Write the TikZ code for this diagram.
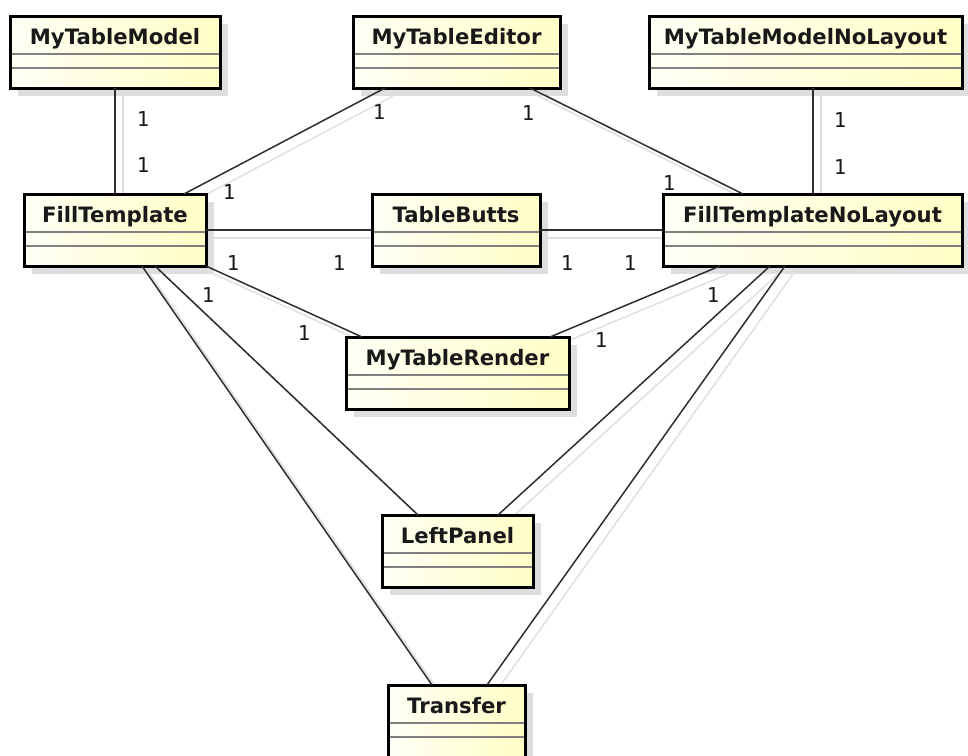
\documentclass[tikz,border=0pt]{standalone}
\usepackage{fontspec}
\setmainfont{DejaVu Sans}
\newfontfamily\numfont{DejaVu Sans Mono}
\usetikzlibrary{shadows,backgrounds}

\definecolor{boxlight}{RGB}{255,255,246}
\definecolor{boxdark}{RGB}{255,255,198}
\definecolor{sepgray}{RGB}{128,128,128}
\definecolor{shadowgray}{RGB}{222,222,222}
\definecolor{linkshade}{RGB}{224,224,224}
\definecolor{classtext}{RGB}{25,25,25}

\tikzset{
  classbox/.style={
    draw=black, line width=3pt, anchor=north west, outer sep=0pt,
    inner xsep=0pt, inner ysep=0pt,
    minimum height=72pt, text height=28pt, text depth=44pt,
    left color=boxlight, right color=boxdark, text=classtext,
    font=\fontsize{21.2}{25}\selectfont\bfseries,
    drop shadow={shadow xshift=8pt, shadow yshift=-8pt, fill=shadowgray, opacity=1},
    path picture={
      \draw[sepgray, line width=2.5pt]
        ([yshift=-38pt]path picture bounding box.north west) --
        ([yshift=-38pt]path picture bounding box.north east);
      \draw[sepgray, line width=2.5pt]
        ([yshift=-52pt]path picture bounding box.north west) --
        ([yshift=-52pt]path picture bounding box.north east);
    }
  },
  link/.style={draw=black!82, line width=1.5pt},
  linkshadow/.style={draw=linkshade, line width=1.5pt,
    transform canvas={shift={(8pt,-8pt)}}},
  mult/.style={font=\numfont\fontsize{20.5}{24}\selectfont, text=classtext, inner sep=0pt},
}

% association line with its soft shadow behind the boxes
\newcommand\umlassoc[2]{%
  \begin{pgfonlayer}{background}\draw[linkshadow] #1 -- #2;\end{pgfonlayer}%
  \draw[link] #1 -- #2;}

\begin{document}
\begin{tikzpicture}[x=1pt, y=-1pt]
  \useasboundingbox (0,0) rectangle (968,755);

  % classes
  \node[classbox, minimum width=210pt] (mtm)  at (10,16)   {MyTableModel};
  \node[classbox, minimum width=207pt] (mte)  at (353,16)  {MyTableEditor};
  \node[classbox, minimum width=313pt] (mtmn) at (649,16)  {MyTableModelNoLayout};
  \node[classbox, minimum width=182pt] (ft)   at (24,194)  {FillTemplate};
  \node[classbox, minimum width=168pt] (tb)   at (372,194) {TableButts};
  \node[classbox, minimum width=299pt] (ftn)  at (663,194) {FillTemplateNoLayout};
  \node[classbox, minimum width=223pt] (mtr)  at (346,337) {MyTableRender};
  \node[classbox, minimum width=151pt] (lp)   at (382,515) {LeftPanel};
  \node[classbox, minimum width=137pt] (tr)   at (388,685) {Transfer};

  % associations
  \umlassoc{([xshift=105pt]mtm.south west)}{([xshift=91pt]ft.north west)}
  \umlassoc{([xshift=32pt]mte.south west)}{([xshift=160pt]ft.north west)}
  \umlassoc{([xshift=177pt]mte.south west)}{([xshift=80pt]ftn.north west)}
  \umlassoc{([xshift=164pt]mtmn.south west)}{([xshift=150pt]ftn.north west)}
  \umlassoc{(ft.east)}{(tb.west)}
  \umlassoc{(tb.east)}{(ftn.west)}
  \umlassoc{(ft.south east)}{([xshift=16pt]mtr.north west)}
  \umlassoc{([xshift=57pt]ftn.south west)}{([xshift=204pt]mtr.north west)}
  \umlassoc{([xshift=131pt]ft.south west)}{([xshift=36pt]lp.north west)}
  \umlassoc{([xshift=107pt]ftn.south west)}{([xshift=116pt]lp.north west)}
  \umlassoc{([xshift=118pt]ft.south west)}{([xshift=44pt]tr.north west)}
  \umlassoc{([xshift=122pt]ftn.south west)}{([xshift=99pt]tr.north west)}

  % multiplicities
  \node[mult] (m1) at (143,119) {1};
  \node[mult] (m2) at (143,165) {1};
  \node[mult] (m3) at (379,112) {1};
  \node[mult] (m4) at (229,192) {1};
  \node[mult] (m5) at (528,113) {1};
  \node[mult] (m6) at (669,183) {1};
  \node[mult] (m7) at (840,120) {1};
  \node[mult] (m8) at (840,167) {1};
  \node[mult] (m9) at (233,263) {1};
  \node[mult] (m10) at (339,263) {1};
  \node[mult] (m11) at (567,263) {1};
  \node[mult] (m12) at (630,263) {1};
  \node[mult] (m13) at (208,295) {1};
  \node[mult] (m14) at (304,333) {1};
  \node[mult] (m15) at (713,295) {1};
  \node[mult] (m16) at (601,340) {1};
\end{tikzpicture}
\end{document}
